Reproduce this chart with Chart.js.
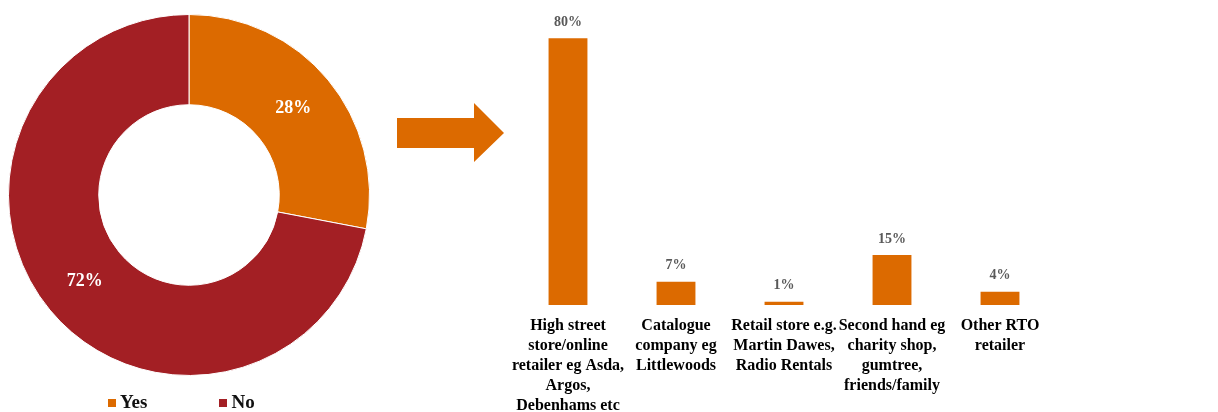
<!DOCTYPE html>
<html>
<head>
<meta charset="utf-8">
<script src="https://cdn.jsdelivr.net/npm/chart.js@4/dist/chart.umd.min.js"></script>
<style>
  html, body { margin: 0; padding: 0; background: #fff; overflow: hidden; }
  body { width: 1218px; height: 412px; position: relative; font-family: "Liberation Serif", serif; }
  #donutWrap { position: absolute; left: 0; top: 0; width: 378px; height: 412px; }
  #barWrap { position: absolute; left: 470px; top: 0; width: 748px; height: 427px; }
  #arrow { position: absolute; left: 0; top: 0; }
  #legend { position: absolute; left: 108px; top: 392px; height: 20px; display: flex; align-items: center;
            font: bold 19px "Liberation Serif", serif; color: #111; }
  .item { display: flex; align-items: center; }
  .swatch { width: 8px; height: 8px; margin-right: 4px; margin-top: 2px; }
</style>
</head>
<body>
<div id="donutWrap"><canvas id="donut"></canvas></div>
<svg id="arrow" width="1218" height="412">
  <polygon points="397,118 474,118 474,103 504,133 474,162 474,148 397,148" fill="#DC6A00"/>
</svg>
<div id="barWrap"><canvas id="bars"></canvas></div>
<div id="legend"></div>
<script>
// Share of respondents: rented to own (Yes / No)
const shareLabels = ["Yes", "No"];
const shareValues = [28, 72];
const shareColors = ["#DC6A00", "#A31F24"];

// Where the item was bought
const sourceLabels = [
  ["High street", "store/online", "retailer eg Asda,", "Argos,", "Debenhams etc"],
  ["Catalogue", "company eg", "Littlewoods"],
  ["Retail store e.g.", "Martin Dawes,", "Radio Rentals"],
  ["Second hand eg", "charity shop,", "gumtree,", "friends/family"],
  ["Other RTO", "retailer"]
];
const sourceValues = [80, 7, 1, 15, 4];
const barColor = "#DC6A00";

const serif = '"Liberation Serif", "Times New Roman", serif';

// White percentage labels in the middle of each ring segment
const arcLabels = {
  id: "arcLabels",
  afterDatasetsDraw(chart) {
    const ctx = chart.ctx;
    const ds = chart.data.datasets[0];
    ctx.save();
    ctx.font = "bold 18px " + serif;
    ctx.fillStyle = "#fff";
    ctx.textAlign = "center";
    ctx.textBaseline = "middle";
    chart.getDatasetMeta(0).data.forEach((arc, i) => {
      const p = arc.tooltipPosition();
      ctx.fillText(ds.data[i] + "%", p.x, p.y);
    });
    ctx.restore();
  }
};

// Grey value labels above each bar
const barLabels = {
  id: "barLabels",
  afterDatasetsDraw(chart) {
    const ctx = chart.ctx;
    const ds = chart.data.datasets[0];
    ctx.save();
    ctx.font = "bold 14px " + serif;
    ctx.fillStyle = "#595959";
    ctx.textAlign = "center";
    ctx.textBaseline = "middle";
    chart.getDatasetMeta(0).data.forEach((bar, i) => {
      ctx.fillText(ds.data[i] + "%", bar.x, bar.y - 16);
    });
    ctx.restore();
  }
};

new Chart(document.getElementById("donut"), {
  type: "doughnut",
  data: {
    labels: shareLabels,
    datasets: [{
      data: shareValues,
      backgroundColor: shareColors,
      borderColor: "#ffffff",
      borderWidth: 1
    }]
  },
  options: {
    responsive: true,
    maintainAspectRatio: false,
    animation: false,
    cutout: "50%",
    layout: { padding: { top: 14, bottom: 36, left: 0, right: 0 } },
    plugins: { legend: { display: false }, tooltip: { enabled: false } }
  },
  plugins: [arcLabels]
});

// Legend for the ring, built from the same labels and colours
const legend = document.getElementById("legend");
shareLabels.forEach((lab, i) => {
  const item = document.createElement("div");
  item.className = "item";
  if (i > 0) item.style.marginLeft = "72px";
  const sw = document.createElement("div");
  sw.className = "swatch";
  sw.style.background = shareColors[i];
  const tx = document.createElement("span");
  tx.textContent = lab;
  item.appendChild(sw);
  item.appendChild(tx);
  legend.appendChild(item);
});

new Chart(document.getElementById("bars"), {
  type: "bar",
  data: {
    labels: sourceLabels,
    datasets: [{
      data: sourceValues,
      backgroundColor: barColor,
      barPercentage: 0.36,
      categoryPercentage: 1.0
    }]
  },
  options: {
    responsive: true,
    maintainAspectRatio: false,
    animation: false,
    layout: { padding: { top: 5, left: 44, right: 164, bottom: 0 } },
    scales: {
      x: {
        grid: { display: false, drawTicks: false },
        border: { display: false },
        ticks: {
          color: "#000",
          maxRotation: 0,
          autoSkip: false,
          padding: 11,
          font: { family: serif, size: 16, weight: "bold", lineHeight: 1.25 }
        }
      },
      y: {
        display: false,
        min: 0,
        max: 90
      }
    },
    plugins: { legend: { display: false }, tooltip: { enabled: false } }
  },
  plugins: [barLabels]
});
</script>
</body>
</html>
